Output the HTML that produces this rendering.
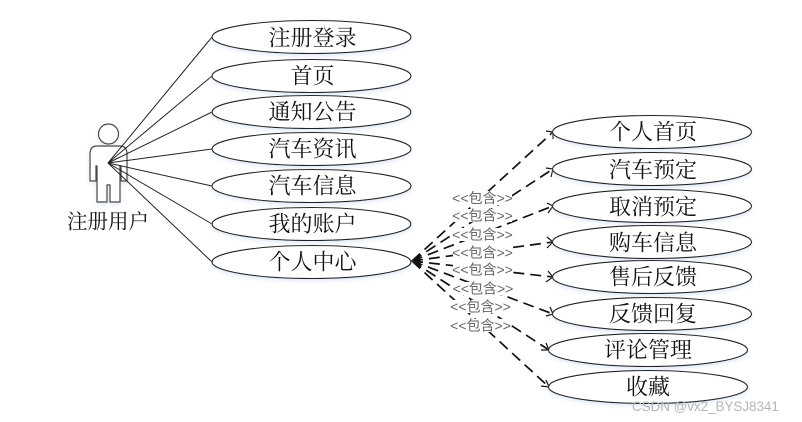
<!DOCTYPE html>
<html>
<head>
<meta charset="utf-8">
<style>
html,body{margin:0;padding:0;background:#fff;}
svg{display:block;}
text{font-family:"Liberation Serif","Noto Serif CJK SC",serif;}
.n{font-size:22px;fill:#111;text-anchor:middle;dominant-baseline:central;}
.l{font-size:14px;fill:#666;text-anchor:middle;dominant-baseline:central;font-family:"Liberation Sans","Noto Sans CJK SC",sans-serif;}
.e{fill:#fff;stroke:#222;stroke-width:1.1;}
.s{stroke:#222;stroke-width:1;fill:none;}
.d{stroke:#111;stroke-width:1.7;fill:none;stroke-dasharray:11 6;}
.a{stroke:#111;stroke-width:1.2;fill:none;}
</style>
</head>
<body>
<svg width="802" height="422" viewBox="0 0 802 422" xmlns="http://www.w3.org/2000/svg">
<defs>
<filter id="sh" x="-10%" y="-30%" width="120%" height="170%"><feDropShadow dx="0" dy="2" stdDeviation="2" flood-color="#c8d8ee" flood-opacity="0.55"/></filter>
</defs>
<rect width="802" height="422" fill="#fff"/>

<!-- actor -->
<g fill="#fff" stroke="#444" stroke-width="1.2" filter="url(#sh)">
<circle cx="108.5" cy="134" r="10"/>
<path d="M97 146 H120 Q127 146 127 154 V181 H121 V166 H120 V202 H110 V185 H107 V202 H97 V166 H96 V181 H90 V154 Q90 146 97 146 Z"/>
</g>
<text x="108" y="222.500" style="font-size:20.500px;fill:#111;text-anchor:middle;dominant-baseline:central">注册用户</text>

<!-- solid lines -->
<g class="s">
<line x1="108" y1="163" x2="212" y2="37"/>
<line x1="108" y1="163" x2="212" y2="76"/>
<line x1="108" y1="163" x2="212" y2="112"/>
<line x1="108" y1="163" x2="212" y2="149"/>
<line x1="108" y1="163" x2="212" y2="186"/>
<line x1="108" y1="163" x2="212" y2="224"/>
<line x1="108" y1="163" x2="212" y2="262"/>
</g>

<!-- dashed lines -->
<g class="d">
<line x1="412" y1="261" x2="553" y2="132"/>
<line x1="412" y1="261" x2="553" y2="169"/>
<line x1="412" y1="261" x2="553" y2="206"/>
<line x1="412" y1="261" x2="553" y2="242"/>
<line x1="412" y1="261" x2="553" y2="277"/>
<line x1="412" y1="261" x2="553" y2="314"/>
<line x1="412" y1="261" x2="549" y2="350"/>
<line x1="412" y1="261" x2="549" y2="387"/>
</g>
<!-- arrowheads -->
<g class="a">
<path d="M546 131 L553 132 L553 139"/>
<path d="M546 168 L553 169 L551 177"/>
<path d="M547 203 L553 206 L548 213"/>
<path d="M547 237 L553 242 L547 248"/>
<path d="M548 271 L553 277 L546 282"/>
<path d="M550 307 L553 314 L546 316"/>
<path d="M546 343 L549 350 L541 350"/>
<path d="M546 380 L549 387 L541 386"/>
</g>
<polygon points="411,261 420,254 421,268" fill="#111"/>

<!-- labels -->
<g fill="#fff">
<rect x="453" y="191" width="59" height="14"/>
<rect x="453" y="209" width="59" height="13"/>
<rect x="453" y="228" width="59" height="13"/>
<rect x="453" y="246" width="59" height="13"/>
<rect x="453" y="263" width="59" height="13"/>
<rect x="454" y="282" width="58" height="13"/>
<rect x="451" y="300" width="59" height="13"/>
<rect x="451" y="319" width="59" height="13"/>
</g>
<text class="l" x="482.5" y="198">&lt;&lt;包含&gt;&gt;</text>
<text class="l" x="482.5" y="215.500">&lt;&lt;包含&gt;&gt;</text>
<text class="l" x="482.5" y="234.500">&lt;&lt;包含&gt;&gt;</text>
<text class="l" x="482.5" y="252.500">&lt;&lt;包含&gt;&gt;</text>
<text class="l" x="482.5" y="269.500">&lt;&lt;包含&gt;&gt;</text>
<text class="l" x="483" y="288.500">&lt;&lt;包含&gt;&gt;</text>
<text class="l" x="480.5" y="306.500">&lt;&lt;包含&gt;&gt;</text>
<text class="l" x="480.5" y="325.500">&lt;&lt;包含&gt;&gt;</text>

<!-- ellipses -->
<g filter="url(#sh)">
<ellipse class="e" cx="311.500" cy="37" rx="99.500" ry="16.500"/>
<ellipse class="e" cx="311.500" cy="76" rx="99.500" ry="16.500"/>
<ellipse class="e" cx="311.500" cy="112" rx="99.500" ry="16.500"/>
<ellipse class="e" cx="311.500" cy="149" rx="99.500" ry="16.500"/>
<ellipse class="e" cx="311.500" cy="186" rx="99.500" ry="16.500"/>
<ellipse class="e" cx="311.500" cy="224" rx="99.500" ry="16.500"/>
<ellipse class="e" cx="311.500" cy="262" rx="99.500" ry="16.500"/>
<ellipse class="e" cx="652" cy="132" rx="99.500" ry="16.500"/>
<ellipse class="e" cx="652" cy="169" rx="99.500" ry="16.500"/>
<ellipse class="e" cx="652" cy="206" rx="99.500" ry="16.500"/>
<ellipse class="e" cx="652" cy="242" rx="99.500" ry="16.500"/>
<ellipse class="e" cx="652" cy="277" rx="99.500" ry="16.500"/>
<ellipse class="e" cx="652" cy="314" rx="99.500" ry="16.500"/>
<ellipse class="e" cx="648" cy="350" rx="99.500" ry="16.500"/>
<ellipse class="e" cx="648" cy="387" rx="99.500" ry="16.500"/>
</g>

<text class="n" x="312.500" y="38">注册登录</text>
<text class="n" x="312.500" y="76">首页</text>
<text class="n" x="312.500" y="112">通知公告</text>
<text class="n" x="312.500" y="149">汽车资讯</text>
<text class="n" x="312.500" y="186">汽车信息</text>
<text class="n" x="312.500" y="224">我的账户</text>
<text class="n" x="312.500" y="262">个人中心</text>
<text class="n" x="653" y="132">个人首页</text>
<text class="n" x="653" y="170">汽车预定</text>
<text class="n" x="653" y="207">取消预定</text>
<text class="n" x="653" y="243">购车信息</text>
<text class="n" x="653" y="277">售后反馈</text>
<text class="n" x="653" y="314">反馈回复</text>
<text class="n" x="648" y="350">评论管理</text>
<text class="n" x="648" y="387">收藏</text>

<text x="632" y="411" style="font-family:'Liberation Sans',sans-serif;font-size:13.400px;fill:#b5b5b5">CSDN @vx2_BYSJ8341</text>
</svg>
</body>
</html>
